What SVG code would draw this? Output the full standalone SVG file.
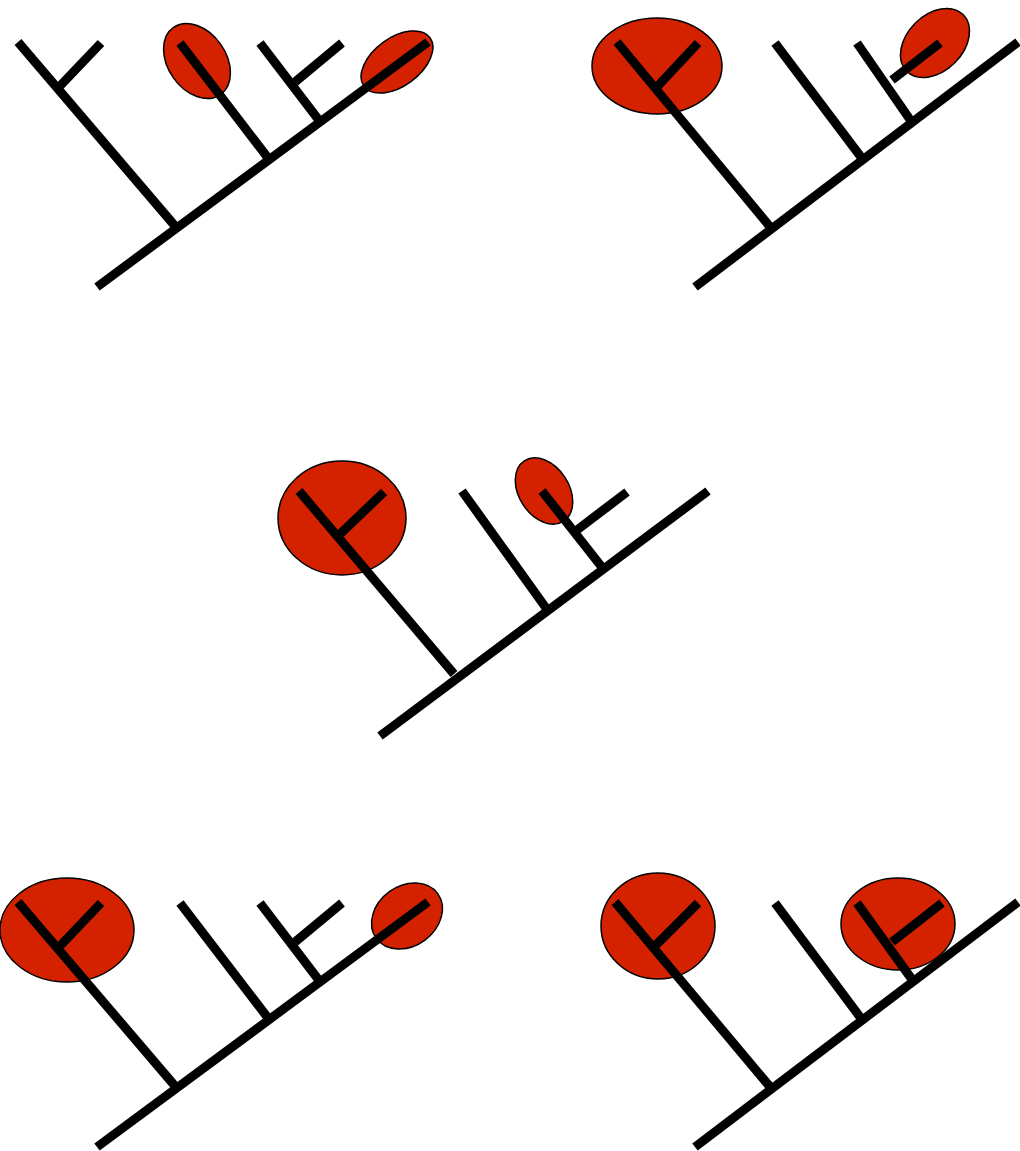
<svg xmlns="http://www.w3.org/2000/svg" width="1020" height="1151" viewBox="0 0 1020 1151">
<style>
.clade{fill:#d42200;stroke:#000;stroke-width:1.5}
.br{stroke:#000;stroke-width:9;stroke-linecap:butt;fill:none}
</style>
<rect width="1020" height="1151" fill="#fff"/>
<g id="tree1">
  <g id="tree1-clades">
    <ellipse class="clade" cx="197" cy="61" rx="41" ry="29" transform="rotate(55 197 61)"/>
    <ellipse class="clade" cx="397" cy="62" rx="41" ry="24" transform="rotate(-36.5 397 62)"/>
  </g>
  <g id="tree1-connectors" class="br">
    <line x1="97" y1="287" x2="428" y2="42"/>
    <line x1="175" y1="226" x2="18" y2="42"/>
    <line x1="60" y1="86" x2="101" y2="43"/>
    <line x1="268" y1="158" x2="180" y2="43"/>
    <line x1="318" y1="119" x2="260" y2="43"/>
    <line x1="295" y1="82" x2="342" y2="43"/>
  </g>
</g>
<g id="tree2">
  <g id="tree2-clades">
    <ellipse class="clade" cx="657" cy="66" rx="65" ry="48"/>
    <ellipse class="clade" cx="935" cy="43" rx="40" ry="28" transform="rotate(-45 935 43)"/>
  </g>
  <g id="tree2-connectors" class="br">
    <line x1="695" y1="287" x2="1018" y2="42"/>
    <line x1="771" y1="228" x2="617" y2="42"/>
    <line x1="656" y1="88" x2="698" y2="43"/>
    <line x1="864" y1="161" x2="775" y2="43"/>
    <line x1="911" y1="121" x2="857" y2="43"/>
    <line x1="892" y1="80" x2="940" y2="43"/>
  </g>
</g>
<g id="tree3">
  <g id="tree3-clades">
    <ellipse class="clade" cx="342" cy="518" rx="64" ry="57"/>
    <ellipse class="clade" cx="544" cy="491" rx="36" ry="25" transform="rotate(57 544 491)"/>
  </g>
  <g id="tree3-connectors" class="br">
    <line x1="380" y1="736" x2="708" y2="491"/>
    <line x1="454" y1="674" x2="299" y2="491"/>
    <line x1="338" y1="536" x2="384" y2="492"/>
    <line x1="546" y1="608" x2="462" y2="491"/>
    <line x1="601" y1="566" x2="542" y2="491"/>
    <line x1="577" y1="530" x2="627" y2="492"/>
  </g>
</g>
<g id="tree4">
  <g id="tree4-clades">
    <ellipse class="clade" cx="67" cy="930" rx="67" ry="52"/>
    <ellipse class="clade" cx="407" cy="916" rx="38" ry="30" transform="rotate(-36 407 916)"/>
  </g>
  <g id="tree4-connectors" class="br">
    <line x1="97" y1="1147" x2="428" y2="902"/>
    <line x1="175" y1="1086" x2="18" y2="902"/>
    <line x1="60" y1="946" x2="101" y2="903"/>
    <line x1="268" y1="1018" x2="180" y2="903"/>
    <line x1="318" y1="979" x2="260" y2="903"/>
    <line x1="295" y1="942" x2="342" y2="903"/>
  </g>
</g>
<g id="tree5">
  <g id="tree5-clades">
    <ellipse class="clade" cx="658" cy="926" rx="57" ry="53"/>
    <ellipse class="clade" cx="898" cy="924" rx="57" ry="46"/>
  </g>
  <g id="tree5-connectors" class="br">
    <line x1="695" y1="1147" x2="1018" y2="902"/>
    <line x1="771" y1="1088" x2="615" y2="902"/>
    <line x1="655" y1="946" x2="698" y2="903"/>
    <line x1="863" y1="1021" x2="775" y2="903"/>
    <line x1="911" y1="978" x2="857" y2="903"/>
    <line x1="892" y1="942" x2="942" y2="903"/>
  </g>
</g>
</svg>
